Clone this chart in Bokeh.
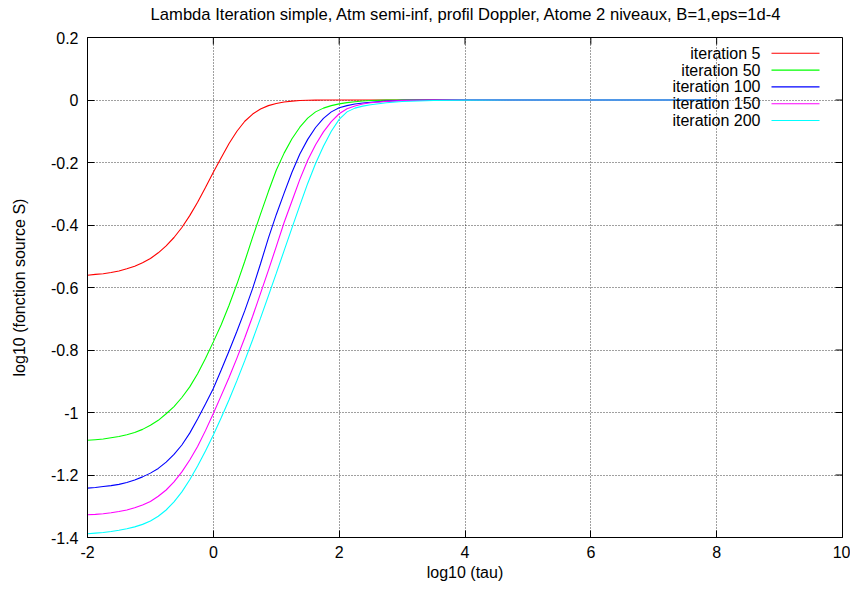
from bokeh.plotting import figure
from bokeh.layouts import column
from bokeh.models import FixedTicker, PrintfTickFormatter, Range1d, Label, Arrow
from bokeh.embed import file_html
from bokeh.resources import INLINE

# ---- data ----
log_tau = [-2.0, -1.875, -1.75, -1.625, -1.5, -1.375, -1.25, -1.125, -1.0,
           -0.875, -0.75, -0.625, -0.5, -0.375, -0.25, -0.125, 0.0, 0.125,
           0.25, 0.375, 0.5, 0.625, 0.75, 0.875, 1.0, 1.125, 1.25, 1.375, 1.5,
           1.625, 1.75, 1.875, 2.0, 2.125, 2.25, 2.375, 2.5, 2.75, 3.0, 3.5,
           4.0, 5.0, 6.0, 7.0, 8.0]

iter5 = [-0.561, -0.558, -0.556, -0.552, -0.547, -0.540, -0.532, -0.521, -0.507,
         -0.489, -0.467, -0.440, -0.408, -0.370, -0.327, -0.280, -0.231, -0.185,
         -0.139, -0.100, -0.068, -0.045, -0.029, -0.018, -0.011, -0.0065, -0.0035,
         -0.0018, -0.0008, -0.0003, -0.0001, 0.0, 0.0, 0.0, 0.0, 0.0, 0.0, 0.0,
         0.0, 0.0, 0.0, 0.0, 0.0, 0.0, 0.0]
iter50 = [-1.089, -1.087, -1.085, -1.081, -1.077, -1.071, -1.064, -1.054, -1.041,
          -1.025, -1.004, -0.981, -0.952, -0.918, -0.876, -0.827, -0.774, -0.719,
          -0.657, -0.589, -0.516, -0.439, -0.365, -0.293, -0.225, -0.170, -0.124,
          -0.087, -0.058, -0.038, -0.026, -0.018, -0.0125, -0.0085, -0.0054,
          -0.003, -0.0015, -0.0003, 0.0, 0.0, 0.0, 0.0, 0.0, 0.0, 0.0]
iter100 = [-1.242, -1.240, -1.237, -1.234, -1.230, -1.224, -1.216, -1.206, -1.194,
           -1.179, -1.159, -1.134, -1.104, -1.066, -1.021, -0.973, -0.923, -0.864,
           -0.803, -0.740, -0.674, -0.603, -0.524, -0.442, -0.367, -0.298, -0.231,
           -0.173, -0.126, -0.088, -0.059, -0.038, -0.025, -0.018, -0.013,
           -0.0095, -0.007, -0.0035, -0.0012, -0.0002, 0.0, 0.0, 0.0, 0.0, 0.0]
iter150 = [-1.327, -1.326, -1.324, -1.321, -1.317, -1.312, -1.305, -1.296, -1.285,
           -1.268, -1.248, -1.222, -1.190, -1.152, -1.109, -1.058, -1.003, -0.946,
           -0.888, -0.826, -0.761, -0.692, -0.619, -0.545, -0.469, -0.392, -0.323,
           -0.254, -0.193, -0.143, -0.102, -0.069, -0.044, -0.028, -0.019, -0.013,
           -0.009, -0.0045, -0.0018, -0.0003, 0.0, 0.0, 0.0, 0.0, 0.0]
iter200 = [-1.388, -1.386, -1.384, -1.381, -1.377, -1.372, -1.366, -1.358, -1.347,
           -1.332, -1.312, -1.286, -1.254, -1.215, -1.171, -1.123, -1.072, -1.017,
           -0.959, -0.898, -0.834, -0.767, -0.698, -0.627, -0.555, -0.482, -0.409,
           -0.337, -0.267, -0.203, -0.148, -0.100, -0.062, -0.038, -0.026, -0.0195,
           -0.015, -0.009, -0.005, -0.0015, -0.0004, 0.0, 0.0, 0.0, 0.0]

series_names = ["iteration 5", "iteration 50", "iteration 100", "iteration 150",
                "iteration 200"]
series_values = [iter5, iter50, iter100, iter150, iter200]
series_colors = ["#ff0000", "#00ff00", "#0000ff", "#ff00ff", "#00ffff"]

x_ticks = [-2, 0, 2, 4, 6, 8, 10]
y_ticks = [0.2, 0.0, -0.2, -0.4, -0.6, -0.8, -1.0, -1.2, -1.4]

title_text = ("Lambda Iteration simple, Atm semi-inf, profil Doppler, "
              "Atome 2 niveaux, B=1,eps=1d-4")
x_label = "log10 (tau)"
y_label = "log10 (fonction source S)"

FONT = "Liberation Sans"
X0, X1 = min(x_ticks), max(x_ticks)
Y0, Y1 = min(y_ticks), max(y_ticks)

W, H = 850, 594
HEAD = 28                      # strip that carries the title
BL, BR, BT, BB = 87, 8, 9, 57
PH = H - HEAD                  # height of the plot figure
FW, FH = W - BL - BR, PH - BT - BB
TICK = 7

# ---- title strip (its frame is aligned with the plot frame by column) ----
head = figure(width=W, height=HEAD, output_backend="svg", toolbar_location=None,
              x_range=Range1d(0, 1), y_range=Range1d(0, 1),
              min_border=0, outline_line_color=None)
head.axis.visible = False
head.grid.visible = False
head.background_fill_color = "white"
head.border_fill_color = "white"
head.add_layout(Label(x=FW / 2 + 1.5, y=HEAD - 14.2,
                      x_units="screen", y_units="screen", text=title_text,
                      text_align="center", text_baseline="alphabetic",
                      text_font=FONT, text_font_size="16.6px", text_color="black"))

# ---- main plot ----
p = figure(width=W, height=PH, output_backend="svg", toolbar_location=None,
           x_range=Range1d(X0, X1), y_range=Range1d(Y0, Y1),
           min_border_left=BL, min_border_right=BR, min_border_top=BT,
           min_border_bottom=BB)
p.background_fill_color = "white"
p.border_fill_color = "white"
p.outline_line_color = "black"
p.outline_line_width = 1

for ax in (p.xaxis[0], p.yaxis[0]):
    ax.major_tick_in = TICK
    ax.major_tick_out = 0
    ax.minor_tick_in = 0
    ax.minor_tick_out = 0
    ax.major_tick_line_color = "black"
    ax.axis_line_color = "black"
    ax.major_label_text_font = FONT
    ax.major_label_text_font_size = "16px"
    ax.major_label_text_color = "black"
    ax.axis_label_text_font = FONT
    ax.axis_label_text_font_size = "16px"
    ax.axis_label_text_font_style = "normal"
    ax.axis_label_text_color = "black"
    ax.formatter = PrintfTickFormatter(format="%g")

p.xaxis[0].ticker = FixedTicker(ticks=x_ticks)
p.yaxis[0].ticker = FixedTicker(ticks=y_ticks)
p.xaxis[0].axis_label = x_label
p.yaxis[0].axis_label = y_label
p.xaxis[0].major_label_standoff = 8
p.xaxis[0].axis_label_standoff = 3
p.yaxis[0].major_label_standoff = 9
p.yaxis[0].axis_label_standoff = 20

for g, tk in ((p.xgrid[0], x_ticks), (p.ygrid[0], y_ticks)):
    g.ticker = FixedTicker(ticks=tk)
    g.grid_line_color = "black"
    g.grid_line_alpha = 0.75
    g.grid_line_dash = "1 2"
    g.grid_line_width = 1

# mirrored (inward) ticks on the top and right borders, gnuplot style
dx = (X1 - X0) / FW * TICK
dy = (Y1 - Y0) / FH * TICK
p.segment(x0=x_ticks, y0=[Y1] * len(x_ticks), x1=x_ticks,
          y1=[Y1 - dy] * len(x_ticks), line_color="black", line_width=1)
p.segment(x0=[X1] * len(y_ticks), y0=y_ticks, x1=[X1 - dx] * len(y_ticks),
          y1=y_ticks, line_color="black", line_width=1)

for name, vals, col in zip(series_names, series_values, series_colors):
    p.line(log_tau, vals, line_color=col, line_width=1.1)

# gnuplot-style key: label right-aligned, then line sample
for i, (name, col) in enumerate(zip(series_names, series_colors)):
    yy = FH - 15.8 - i * 16.8
    p.add_layout(Label(x=673, y=yy, x_units="screen", y_units="screen", text=name,
                       text_align="right", text_baseline="middle",
                       text_font=FONT, text_font_size="16px", text_color="black"))
    p.add_layout(Arrow(end=None, x_start=684, x_end=732, y_start=yy, y_end=yy,
                       start_units="screen", end_units="screen",
                       line_color=col, line_width=1.1))

layout = column(head, p, spacing=0)
open("out.html", "w").write(file_html(layout, INLINE))
